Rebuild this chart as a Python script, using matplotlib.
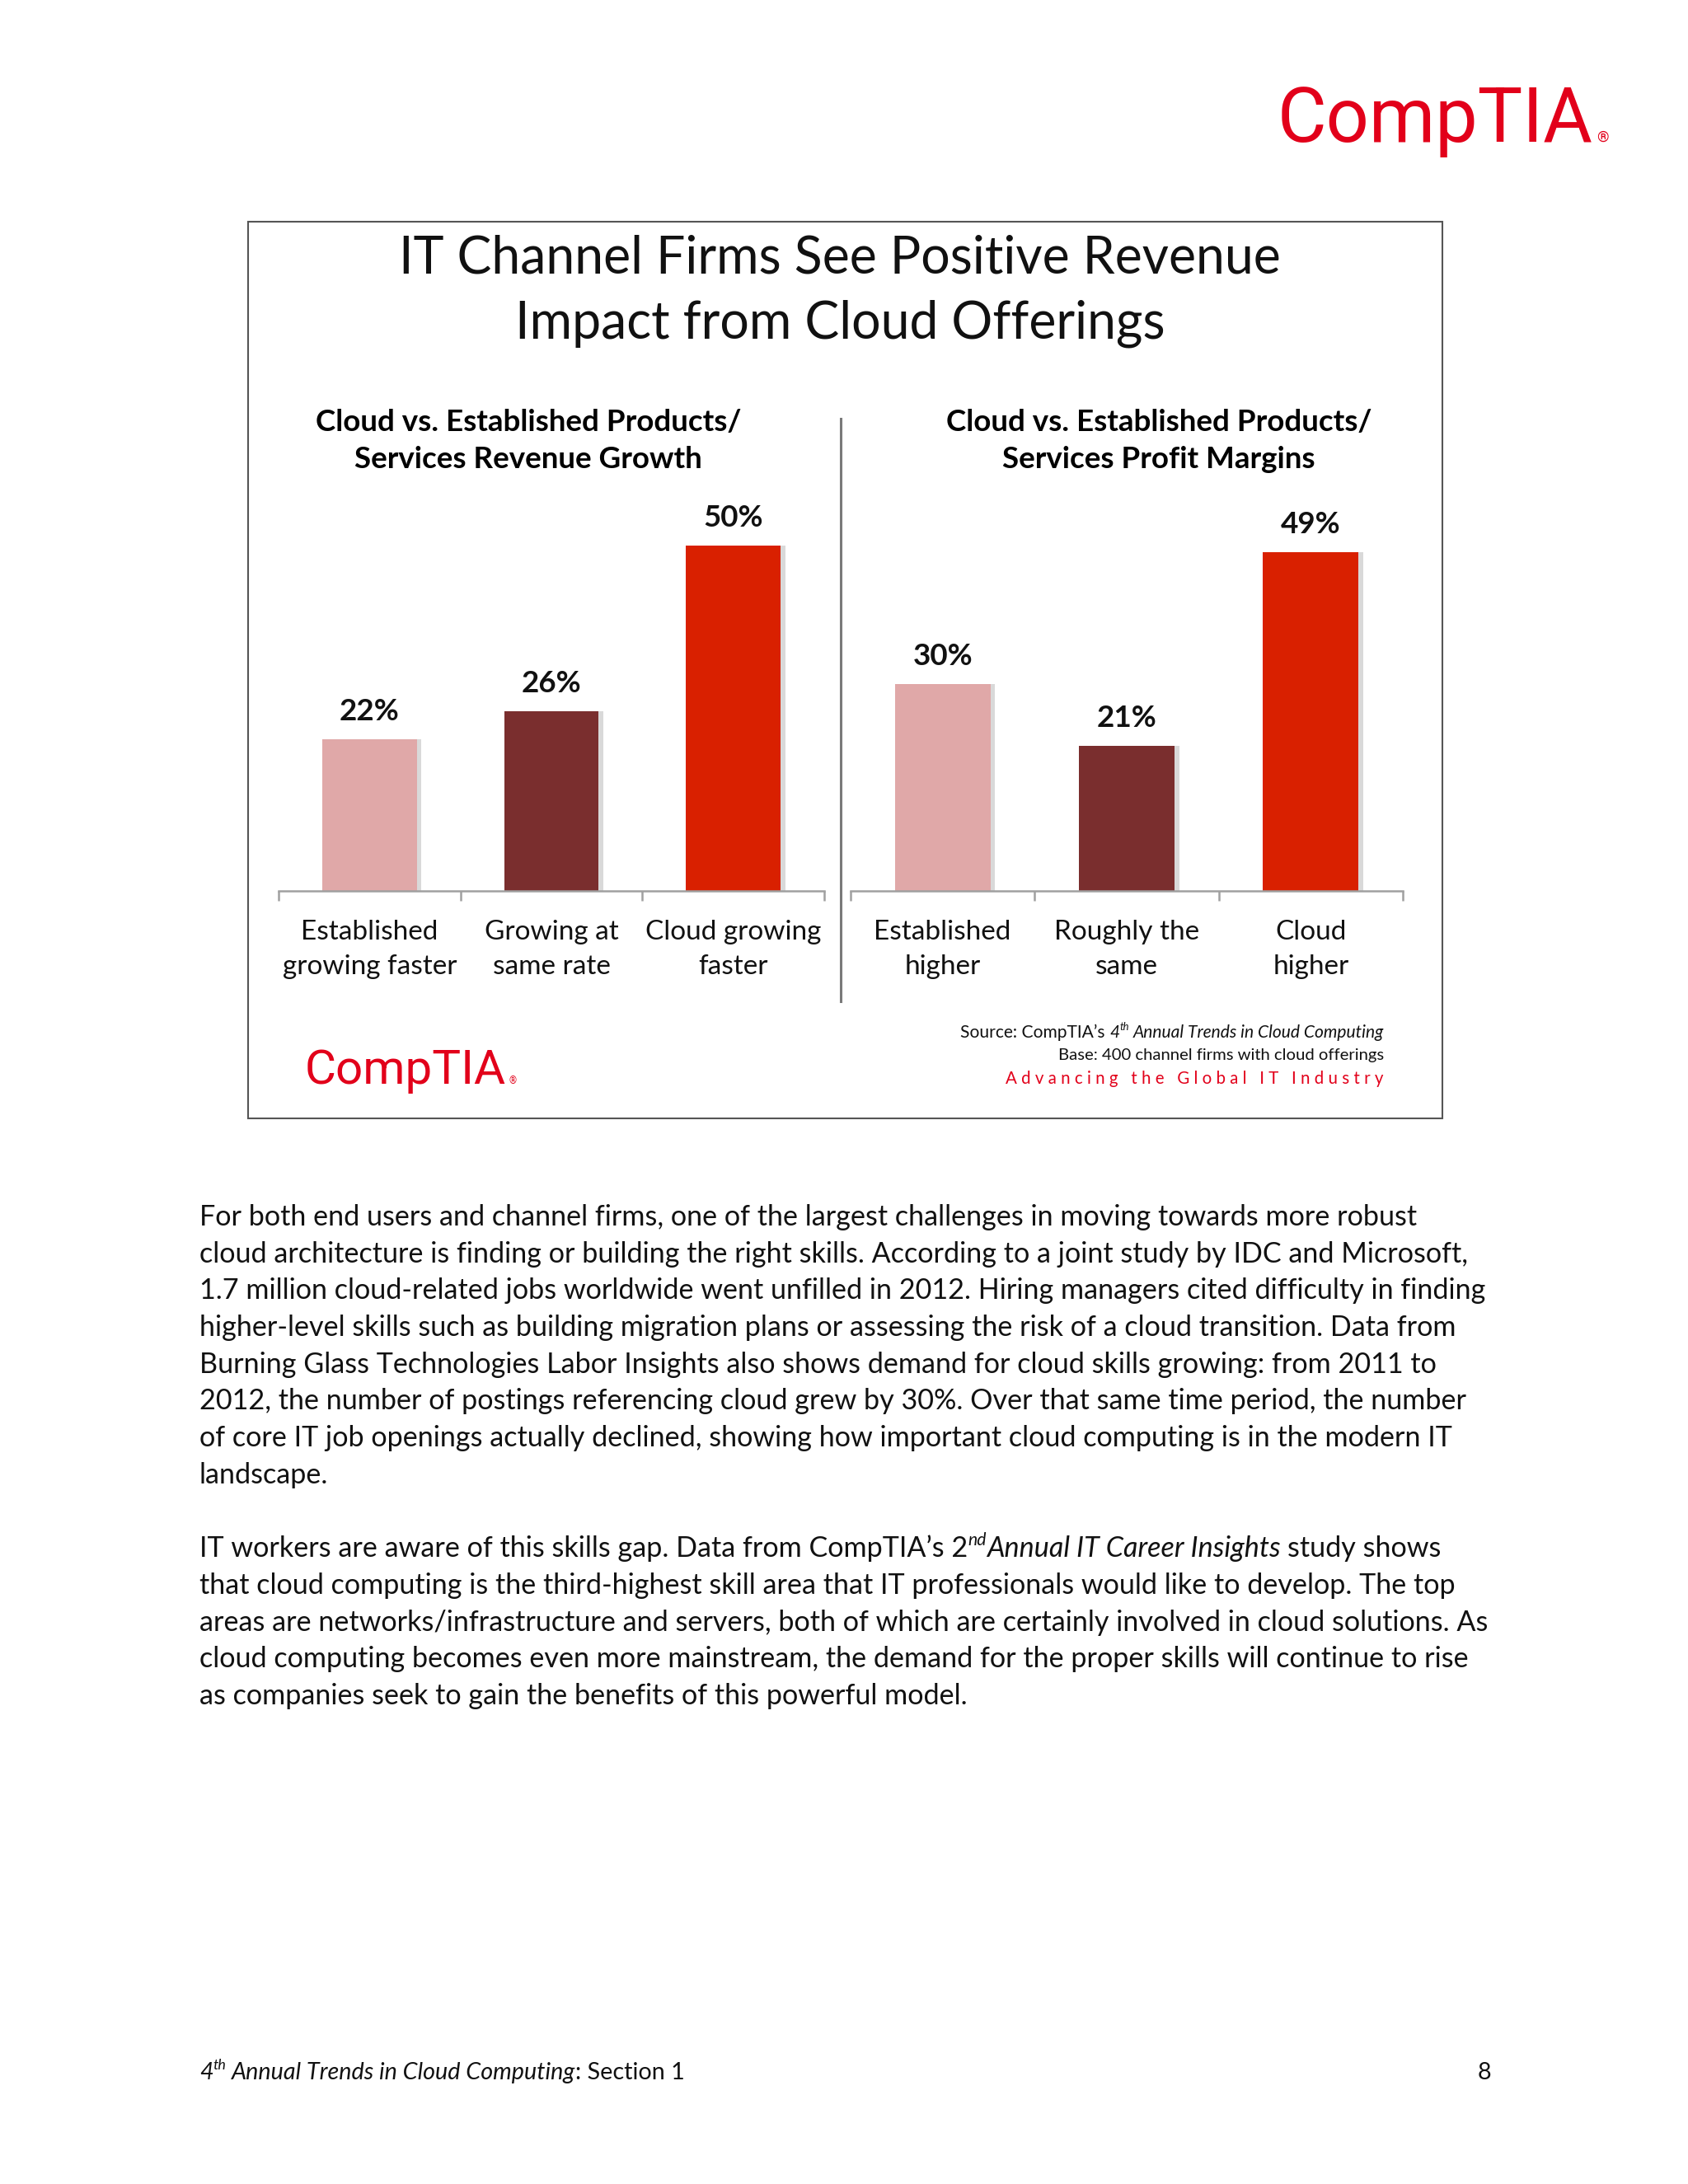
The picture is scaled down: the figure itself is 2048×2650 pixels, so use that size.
import matplotlib.pyplot as plt
from matplotlib.patches import Rectangle
from matplotlib.lines import Line2D
from matplotlib.transforms import IdentityTransform

# chart data
growth_labels = ['Established\ngrowing faster', 'Growing at\nsame rate', 'Cloud growing\nfaster']
growth_values = [22, 26, 50]
margin_labels = ['Established\nhigher', 'Roughly the\nsame', 'Cloud\nhigher']
margin_values = [30, 21, 49]
bar_colors = ['#E0A8A8', '#7A2E2E', '#D92000']

title_lines = ['IT Channel Firms See Positive Revenue', 'Impact from Cloud Offerings']
growth_title = 'Cloud vs. Established Products/\nServices Revenue Growth'
margin_title = 'Cloud vs. Established Products/\nServices Profit Margins'

body_lines = [
    [('For both end users and channel firms, one of the largest challenges in moving towards more robust', 'n')],
    [('cloud architecture is finding or building the right skills. According to a joint study by IDC and Microsoft,', 'n')],
    [('1.7 million cloud-related jobs worldwide went unfilled in 2012. Hiring managers cited difficulty in finding', 'n')],
    [('higher-level skills such as building migration plans or assessing the risk of a cloud transition. Data from', 'n')],
    [('Burning Glass Technologies Labor Insights also shows demand for cloud skills growing: from 2011 to', 'n')],
    [('2012, the number of postings referencing cloud grew by 30%. Over that same time period, the number', 'n')],
    [('of core IT job openings actually declined, showing how important cloud computing is in the modern IT', 'n')],
    [('landscape.', 'n')],
    [],
    [('IT workers are aware of this skills gap. Data from CompTIA\u2019s 2', 'n'), ('nd', 'supi'),
     ('Annual IT Career Insights', 'i'), (' study shows', 'n')],
    [('that cloud computing is the third-highest skill area that IT professionals would like to develop. The top', 'n')],
    [('areas are networks/infrastructure and servers, both of which are certainly involved in cloud solutions. As', 'n')],
    [('cloud computing becomes even more mainstream, the demand for the proper skills will continue to rise', 'n')],
    [('as companies seek to gain the benefits of this powerful model.', 'n')],
]

W, H = 2048, 2650
plt.rcParams['font.family'] = ['Lato', 'DejaVu Sans']
fig = plt.figure(figsize=(W / 100, H / 100), dpi=100)
fig.patch.set_facecolor('white')
renderer = fig.canvas.get_renderer()
PX = IdentityTransform()


def fx(x):
    return x / W


def fy(y):
    return 1 - y / H


def measure(s, size, style, weight='normal', family=None):
    kw = {'family': family} if family else {}
    t = fig.text(0, 0, s, fontsize=size, fontstyle=style, fontweight=weight, transform=PX, **kw)
    w = t.get_window_extent(renderer).width
    t.remove()
    return w


def text_runs(x, y, parts, ha='left', size=21, color='#111111', family=None, weight='normal'):
    # draws mixed-style pieces on one baseline (y in pixels from top)
    pieces = []
    total = 0
    for s, kind in parts:
        sup = 'sup' in kind
        style = 'italic' if kind in ('i', 'supi') else 'normal'
        if kind == 'reg':
            fs = size * 0.2
        elif sup:
            fs = size * 0.62
        else:
            fs = size
        sp = measure('a a', fs, style, weight, family) - measure('aa', fs, style, weight, family)
        core = s.strip(' ')
        lead = len(s) - len(s.lstrip(' '))
        trail = len(s) - len(s.rstrip(' '))
        w = measure(core, fs, style, weight, family) if core else 0
        pieces.append((core, fs, style, sup, lead * sp, w, trail * sp))
        total += lead * sp + w + trail * sp
    if ha == 'right':
        x0 = x - total
    elif ha == 'center':
        x0 = x - total / 2
    else:
        x0 = x
    for core, fs, style, sup, lw, w, tw in pieces:
        x0 += lw
        dy = size * 0.42 * 100 / 72 if sup else 0
        kw = {'family': family} if family else {}
        fig.text(x0, H - y + dy, core, fontsize=fs, fontstyle=style, fontweight=weight,
                 color=color, transform=PX, va='baseline', ha='left', **kw)
        x0 += w + tw


# top logo
text_runs(1550, 172, [('CompTIA', 'n'), (' \u00ae', 'reg')], size=66, color='#E2001A', family='Roboto')

# chart frame
fig.add_artist(Rectangle((fx(301), fy(1357)), (1750 - 301) / W, (1357 - 269) / H, fill=False,
                         edgecolor='#555555', linewidth=1.5, transform=fig.transFigure))
for i, line in enumerate(title_lines):
    fig.text(fx(1019), fy(313 + i * 80), line, fontsize=45, ha='center', va='center', color='#111111')

fig.text(fx(641), fy(535), growth_title, fontsize=26.5, fontweight='bold', ha='center', va='center',
         linespacing=1.45)
fig.text(fx(1406), fy(535), margin_title, fontsize=26.5, fontweight='bold', ha='center', va='center',
         linespacing=1.45)

fig.add_artist(Line2D([fx(1020), fx(1020)], [fy(508), fy(1215)], color='#7a7a7a', linewidth=2.2))


def panel(left, right, labels, values):
    ax = fig.add_axes([fx(left), fy(1081), (right - left) / W, 503 / H])
    x = list(range(len(values)))
    ax.bar([v + 0.025 for v in x], values, width=0.52, color='#d9d9d9', zorder=1)
    ax.bar(x, values, width=0.52, color=bar_colors, zorder=2)
    for i, v in enumerate(values):
        ax.annotate(f'{v}%', (i, v), xytext=(0, 24), textcoords='offset points', ha='center',
                    va='center', fontsize=26.5, fontweight='bold', color='#111111')
    ax.set_xlim(-0.5, len(values) - 0.5)
    ax.set_ylim(0, 60)
    ax.set_yticks([])
    ax.set_xticks(x)
    ax.set_xticklabels(labels, fontsize=24, linespacing=1.5, color='#111111')
    ax.set_xticks([i - 0.5 for i in range(len(values) + 1)], minor=True)
    ax.tick_params(axis='x', which='major', length=0, pad=25)
    ax.tick_params(axis='x', which='minor', length=8.6, width=1.8, color='#a0a0a0', direction='out')
    for s in ['left', 'top', 'right']:
        ax.spines[s].set_visible(False)
    ax.spines['bottom'].set_color('#a0a0a0')
    ax.spines['bottom'].set_linewidth(1.8)
    ax.patch.set_alpha(0)
    return ax


panel(338, 1000, growth_labels, growth_values)
panel(1032, 1702, margin_labels, margin_values)

# source notes and inner logo
text_runs(1679, 1259, [('Source: CompTIA\u2019s ', 'n'), ('4', 'i'), ('th', 'supi'),
                       (' Annual Trends in Cloud Computing', 'i')], ha='right', size=15.1)
text_runs(1679, 1286, [('Base: 400 channel firms with cloud offerings', 'n')], ha='right', size=14.6)
text_runs(1679, 1315, [('A d v a n c i n g   t h e   G l o b a l   I T   I n d u s t r y', 'n')],
          ha='right', size=14.8, color='#E2001A')
text_runs(370, 1315, [('CompTIA', 'n'), (' \u00ae', 'reg')], size=42, color='#E2001A', family='Roboto')

# body text
for i, parts in enumerate(body_lines):
    if parts:
        text_runs(242, 1487, parts, size=24.6) if i == 0 else text_runs(242, 1487 + i * 44.7, parts, size=24.6)

# footer
text_runs(242, 2523, [('4', 'i'), ('th', 'supi'), (' Annual Trends in Cloud Computing', 'i'),
                      (': Section 1', 'n')], size=20.7)
text_runs(1809, 2523, [('8', 'n')], ha='right', size=20.7)

fig.savefig('out.png', dpi=100, facecolor='white')
